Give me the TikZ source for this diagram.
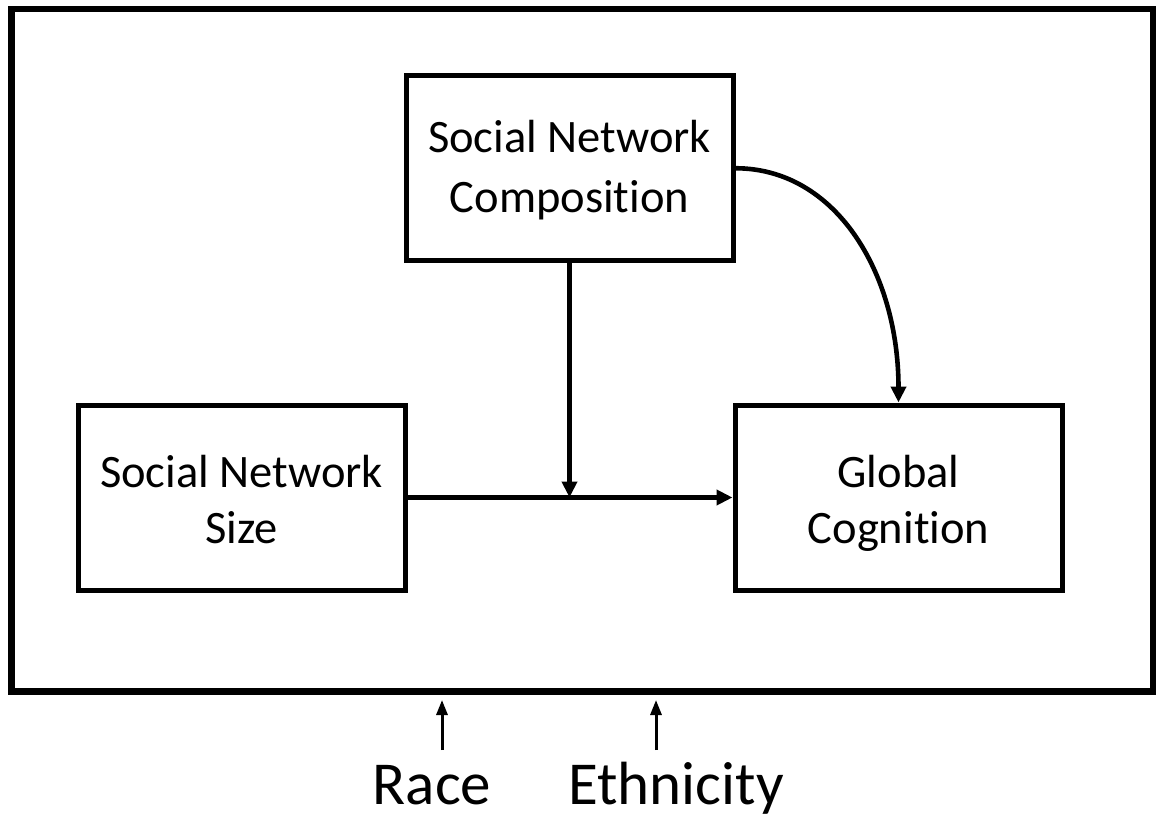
\documentclass[tikz,border=0pt]{standalone}
\usepackage{fontspec}
\setmainfont{Carlito}[Ligatures=NoCommon]
\usetikzlibrary{arrows.meta}
\begin{document}
\begin{tikzpicture}[x=1pt,y=-1pt,
  box/.style={draw,line width=5pt,rectangle,inner sep=0pt,
    minimum width=327pt,minimum height=185pt,align=center,
    text height=91pt,text depth=0pt,
    font=\fontsize{46.5}{56}\selectfont},
  link/.style={line width=4.6pt,-{Triangle[length=16pt,width=15pt]}},
  thin link/.style={line width=3pt,-{Triangle[length=15pt,width=11pt]}},
  label/.style={anchor=base,inner sep=0pt,font=\fontsize{61}{70}\selectfont}]
  \useasboundingbox (0,0) rectangle (1157,821);
  % outer frame
  \node[draw,line width=6.5pt,inner sep=0pt,minimum width=1141.5pt,
        minimum height=682.5pt] (frame) at (582.25,350.25) {};
  % variables
  \node[box,minimum height=184.5pt,text height=89.5pt,
        font=\fontsize{46.5}{60}\selectfont] (comp) at (569.5,168.25)
        {Social Network\\Composition};
  \node[box] (size) at (241.5,497.5) {Social Network\\Size};
  \node[box] (glob) at (898.5,497.5) {Global\\Cognition};
  % paths
  \coordinate (meet) at (comp.south |- size.east);
  \draw[link] (size.east) -- (glob.west);
  \draw[link] (comp.south) -- (meet);
  \draw[link] (comp.east) .. controls +(100,0) and +(0,-130) .. (glob.north);
  % moderators
  \node[label] (race) at (432,804) {Race};
  \node[label] (eth) at (676,804) {Ethnicity};
  \coordinate (raceTail) at (442,750);
  \coordinate (raceHead) at (442,700);
  \coordinate (ethTail) at (656,750);
  \coordinate (ethHead) at (656,700);
  \draw[thin link] (raceTail) -- (raceHead);
  \draw[thin link] (ethTail) -- (ethHead);
\end{tikzpicture}
\end{document}
